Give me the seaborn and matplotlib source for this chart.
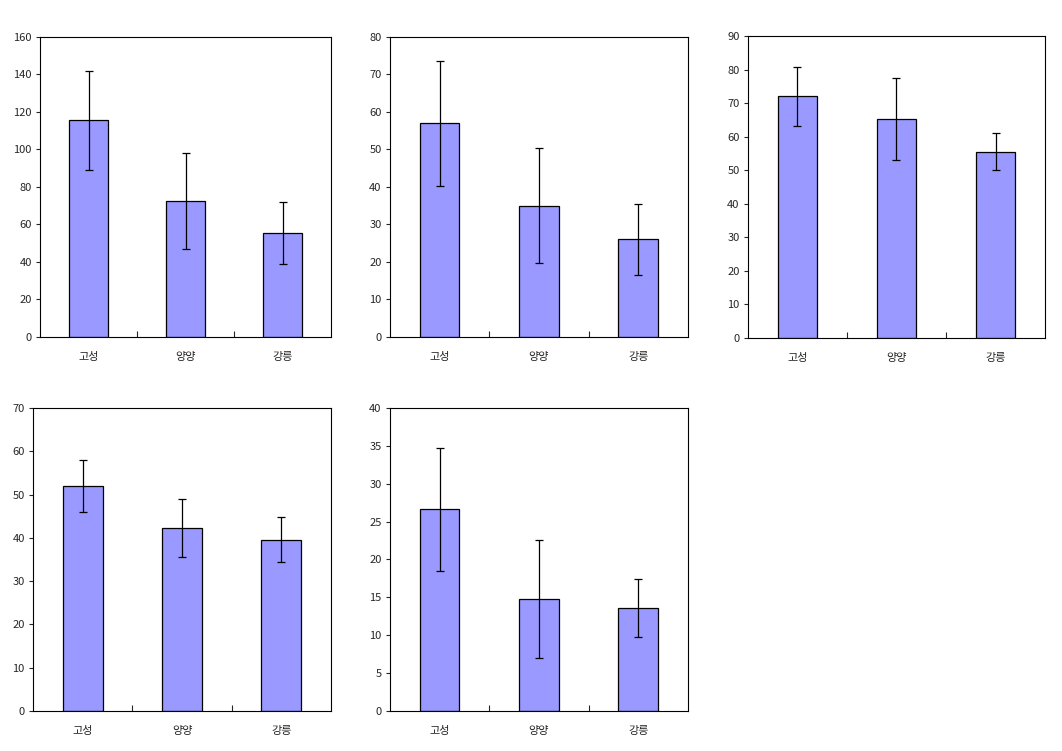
import matplotlib
matplotlib.use("Agg")
import matplotlib.pyplot as plt
import seaborn as sns

sns.set_style("white")
plt.rcParams['font.family'] = ['Noto Sans CJK KR', 'DejaVu Sans']

regions = ["고성", "양양", "강릉"]

# 패널별 평균값과 오차(표준편차)
means1 = [115.5, 72.5, 55.5]
errs1 = [26.3, 25.5, 16.7]
means2 = [57.0, 35.0, 26.0]
errs2 = [16.7, 15.4, 9.4]
means3 = [72.0, 65.3, 55.5]
errs3 = [8.9, 12.2, 5.5]
means4 = [52.0, 42.2, 39.6]
errs4 = [6.0, 6.7, 5.2]
means5 = [26.6, 14.8, 13.6]
errs5 = [8.1, 7.8, 3.8]

ymax = [160, 80, 90, 70, 40]
ystep = [20, 10, 10, 10, 5]

# axes 위치 (figure fraction)
boxes = [
    [0.0377, 0.5513, 0.2740, 0.3995],
    [0.3672, 0.5513, 0.2806, 0.3995],
    [0.7043, 0.5499, 0.2797, 0.4021],
    [0.0311, 0.0533, 0.2806, 0.4035],
    [0.3672, 0.0533, 0.2806, 0.4035],
]

fig = plt.figure(figsize=(10.62, 7.51), dpi=100)

data = [(means1, errs1), (means2, errs2), (means3, errs3), (means4, errs4), (means5, errs5)]

for i, (m, e) in enumerate(data):
    ax = fig.add_axes(boxes[i])
    sns.barplot(x=regions, y=m, color="#9999FF", saturation=1, width=0.4,
                edgecolor="black", linewidth=0.9, ax=ax)
    ax.errorbar(range(3), m, yerr=e, fmt="none", ecolor="black",
                elinewidth=0.9, capsize=3, capthick=0.9)
    ax.set_xlim(-0.5, 2.5)
    ax.set_ylim(0, ymax[i])
    ax.set_yticks(range(0, ymax[i] + 1, ystep[i]))
    ax.set_xticks([0.5, 1.5], minor=True)
    ax.tick_params(axis="x", which="major", length=0, pad=11, labelsize=8)
    ax.tick_params(axis="x", which="minor", direction="in", length=4, width=0.8, bottom=True)
    ax.tick_params(axis="y", direction="out", length=3, width=0.8, pad=3, labelsize=8, left=True)
    for s in ax.spines.values():
        s.set_color("black")
        s.set_linewidth(0.8)
    ax.set_xlabel("")
    ax.set_ylabel("")

plt.savefig("out.png", dpi=100)
